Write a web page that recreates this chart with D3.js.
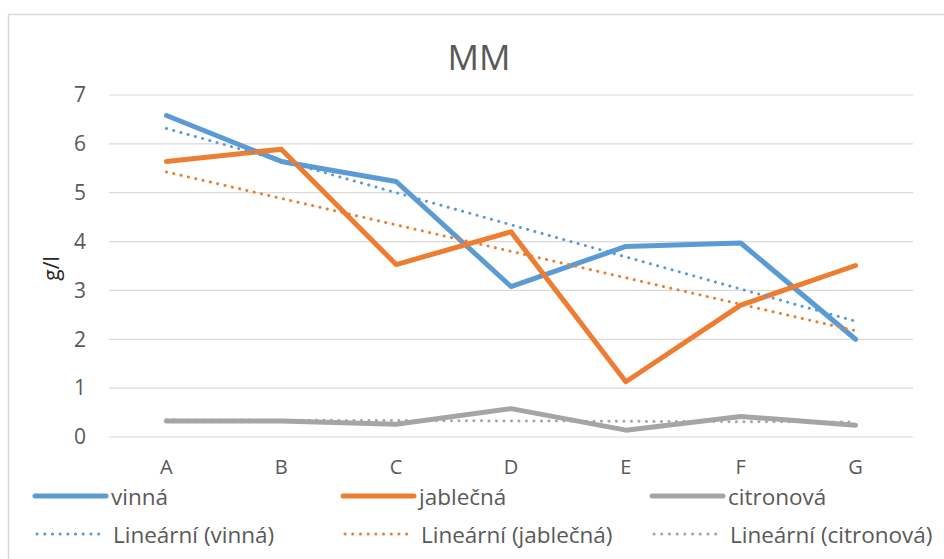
<!DOCTYPE html>
<html>
<head>
<meta charset="utf-8">
<script src="https://cdn.jsdelivr.net/npm/d3@7"></script>
<style>
  body { margin: 0; background: #fff; }
  text { font-family: "Open Sans", sans-serif; }
</style>
</head>
<body>
<div id="chart"></div>
<script>
// Data
var categories = ["A", "B", "C", "D", "E", "F", "G"];
var vinna = [6.58, 5.64, 5.23, 3.08, 3.90, 3.97, 2.00];
var jablecna = [5.64, 5.89, 3.53, 4.20, 1.13, 2.70, 3.51];
var citronova = [0.33, 0.33, 0.26, 0.58, 0.14, 0.42, 0.24];
var seriesNames = ["vinná", "jablečná", "citronová"];
var seriesColors = ["#5b9bd5", "#ed7d31", "#a5a5a5"];
var yTicks = [0, 1, 2, 3, 4, 5, 6, 7];

var series = [vinna, jablecna, citronova];

var svgWidth = 944;
var svgHeight = 559;

var margin = { top: 95, right: 31, bottom: 122, left: 109 };
var width = 913 - margin.left;
var height = 437 - margin.top;

var svg = d3.select("#chart")
  .append("svg")
  .attr("width", svgWidth)
  .attr("height", svgHeight);

// chart border
svg.append("rect")
  .attr("x", 8.5)
  .attr("y", 14.5)
  .attr("width", 1000)
  .attr("height", 600)
  .attr("fill", "none")
  .attr("stroke", "#d9d9d9")
  .attr("stroke-width", 1.5);

// title
svg.append("text")
  .attr("x", 479)
  .attr("y", 70)
  .attr("text-anchor", "middle")
  .style("font-size", "35px")
  .attr("fill", "#595959")
  .text("MM");

var chartGroup = svg.append("g")
  .attr("transform", `translate(${margin.left}, ${margin.top})`);

var xScale = d3.scaleBand()
  .domain(categories)
  .range([0, width]);

var yScale = d3.scaleLinear()
  .domain([0, 7])
  .range([height, 0]);

// gridlines
chartGroup.selectAll(".grid")
  .data(yTicks)
  .enter()
  .append("line")
  .attr("x1", 0)
  .attr("x2", width)
  .attr("y1", d => yScale(d))
  .attr("y2", d => yScale(d))
  .attr("stroke", "#d9d9d9")
  .attr("stroke-width", 1.2);

// y axis
var leftAxis = d3.axisLeft(yScale).tickValues(yTicks).tickFormat(d3.format("d")).tickSize(0).tickPadding(23);
var yAxis = chartGroup.append("g").call(leftAxis);
yAxis.select(".domain").remove();
yAxis.selectAll("text")
  .style("font-size", "21px")
  .style("font-family", "Open Sans, sans-serif")
  .attr("fill", "#595959");

// x axis
var bottomAxis = d3.axisBottom(xScale).tickSize(0).tickPadding(23);
var xAxis = chartGroup.append("g")
  .attr("transform", `translate(0, ${height})`)
  .call(bottomAxis);
xAxis.select(".domain").remove();
xAxis.selectAll("text")
  .style("font-size", "20px")
  .style("font-family", "Open Sans, sans-serif")
  .attr("fill", "#595959");

// y axis label
chartGroup.append("text")
  .attr("transform", "rotate(-90)")
  .attr("x", 0 - yScale(3.45))
  .attr("y", 59 - margin.left)
  .attr("text-anchor", "middle")
  .style("font-size", "21px")
  .attr("fill", "#262626")
  .text("g/l");

var cx = d => xScale(d) + xScale.bandwidth() / 2;

var line = d3.line()
  .x((d, i) => cx(categories[i]))
  .y(d => yScale(d));

// linear trend lines (least squares fit, like the spreadsheet trendline)
function trend(vals) {
  var n = vals.length;
  var xs = d3.range(1, n + 1);
  var mx = d3.mean(xs), my = d3.mean(vals);
  var sxy = d3.sum(xs, (x, i) => (x - mx) * (vals[i] - my));
  var sxx = d3.sum(xs, x => (x - mx) * (x - mx));
  var b = sxy / sxx;
  return xs.map(x => my + b * (x - mx));
}

series.forEach(function(vals, i) {
  chartGroup.append("path")
    .datum(vals)
    .attr("d", line)
    .attr("fill", "none")
    .attr("stroke", seriesColors[i])
    .attr("stroke-width", 5)
    .attr("stroke-linecap", "round")
    .attr("stroke-linejoin", "round");
});

series.forEach(function(vals, i) {
  chartGroup.append("path")
    .datum(trend(vals))
    .attr("d", line)
    .attr("fill", "none")
    .attr("stroke", seriesColors[i])
    .attr("stroke-width", 3)
    .attr("stroke-linecap", "round")
    .attr("stroke-dasharray", "0.1 7.4");
});

// legend
var legendX = [35, 343, 652];
var legendRows = [497, 535];

var legend = svg.append("g");
seriesNames.forEach(function(name, i) {
  legend.append("line")
    .attr("x1", legendX[i])
    .attr("x2", legendX[i] + 71)
    .attr("y1", legendRows[0] - 1)
    .attr("y2", legendRows[0] - 1)
    .attr("stroke", seriesColors[i])
    .attr("stroke-width", 5)
    .attr("stroke-linecap", "round");
  legend.append("text")
    .attr("x", legendX[i] + 76)
    .attr("y", legendRows[0])
    .attr("dy", "0.35em")
    .style("font-size", "22.5px")
    .attr("fill", "#595959")
    .text(name);

  legend.append("line")
    .attr("x1", legendX[i] + 2)
    .attr("x2", legendX[i] + 71)
    .attr("y1", legendRows[1] - 1)
    .attr("y2", legendRows[1] - 1)
    .attr("stroke", seriesColors[i])
    .attr("stroke-width", 3)
    .attr("stroke-linecap", "round")
    .attr("stroke-dasharray", "0.1 7.6");
  legend.append("text")
    .attr("x", legendX[i] + 78)
    .attr("y", legendRows[1])
    .attr("dy", "0.35em")
    .style("font-size", "22.5px")
    .attr("fill", "#595959")
    .text("Lineární (" + name + ")");
});
</script>
</body>
</html>
